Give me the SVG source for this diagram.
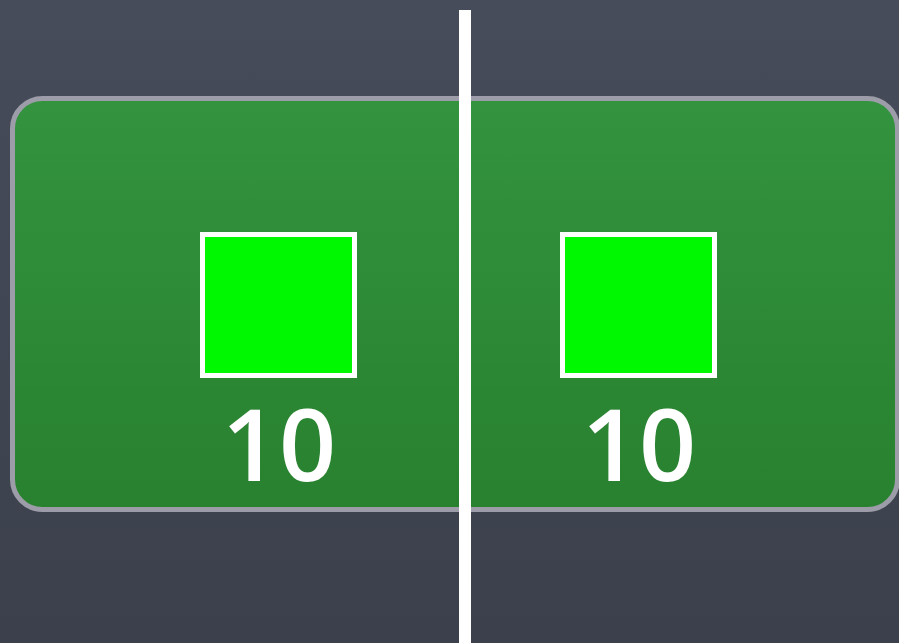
<svg xmlns="http://www.w3.org/2000/svg" width="899" height="643" viewBox="0 0 899 643">
<style>
.sq{fill:#00f900;stroke:#ffffff;stroke-width:5}
.num{font-family:"Open Sans","DejaVu Sans",sans-serif;font-size:100px;font-weight:600;fill:#ffffff;text-anchor:middle}
</style>
<defs>
<linearGradient id="bg" x1="0" y1="0" x2="0" y2="1">
<stop offset="0" stop-color="#474c5b"/>
<stop offset="1" stop-color="#3b404c"/>
</linearGradient>
<linearGradient id="gr" x1="0" y1="0" x2="0" y2="1">
<stop offset="0" stop-color="#33933f"/>
<stop offset="1" stop-color="#28812f"/>
</linearGradient>
</defs>
<rect x="0" y="0" width="899" height="643" fill="url(#bg)"/>
<g id="board">
<rect x="12.5" y="98.5" width="885" height="411" rx="30" fill="url(#gr)" stroke="#9c9da8" stroke-width="5"/>
</g>
<g id="divider">
<rect x="459" y="10" width="12" height="633" fill="#ffffff"/>
</g>
<g id="left">
<rect class="sq" x="202.5" y="234.5" width="152" height="141"/>
<text class="num" x="279" y="481">10</text>
</g>
<g id="right">
<rect class="sq" x="562.5" y="234.5" width="152" height="141"/>
<text class="num" x="639" y="481">10</text>
</g>
</svg>
